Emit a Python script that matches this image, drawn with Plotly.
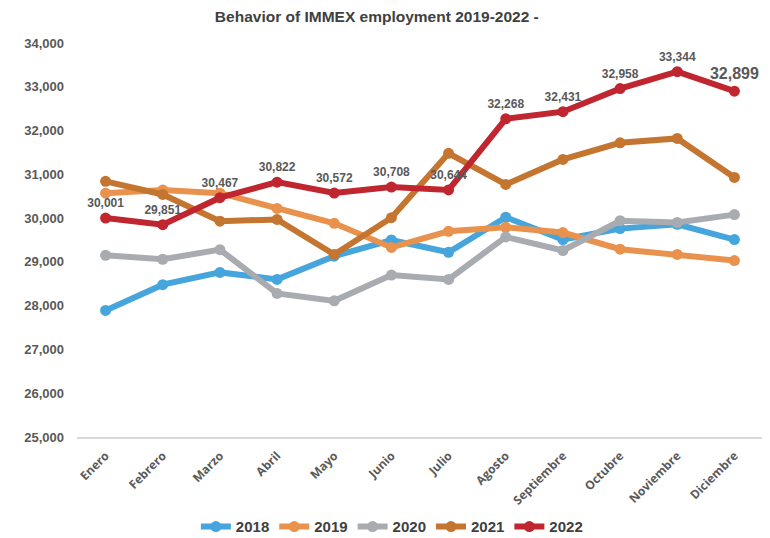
import plotly.graph_objects as go

months = ["Enero", "Febrero", "Marzo", "Abril", "Mayo", "Junio", "Julio",
          "Agosto", "Septiembre", "Octubre", "Noviembre", "Diciembre"]

y2018 = [27890, 28480, 28760, 28600, 29130, 29500, 29220, 30020, 29510, 29760, 29860, 29510]
y2019 = [30570, 30640, 30570, 30220, 29880, 29330, 29700, 29790, 29670, 29290, 29170, 29030]
y2020 = [29150, 29060, 29280, 28280, 28110, 28700, 28600, 29570, 29260, 29940, 29900, 30080]
y2021 = [30840, 30540, 29930, 29970, 29170, 30010, 31480, 30770, 31340, 31720, 31820, 30930]
y2022 = [30001, 29851, 30467, 30822, 30572, 30708, 30644, 32268, 32431, 32958, 33344, 32899]

series = [("2018", y2018, "#45A5DC"),
          ("2019", y2019, "#E8924E"),
          ("2020", y2020, "#A8ABB0"),
          ("2021", y2021, "#C47530"),
          ("2022", y2022, "#C0262F")]

fig = go.Figure()
for name, vals, col in series:
    if name == "2022":
        kw = dict(mode="lines+markers+text",
                  text=[f"{v:,}" for v in vals],
                  textposition="top center",
                  textfont=dict(family="Liberation Sans, Arial", size=[12]*11 + [16],
                                color="#595959", weight="bold"))
    else:
        kw = dict(mode="lines+markers")
    fig.add_trace(go.Scatter(x=months, y=vals, name=name,
                             line=dict(color=col, width=6),
                             marker=dict(color=col, size=11),
                             cliponaxis=False, **kw))

# page body has an 8px margin; figure is sized to fit the 770x538 window
fig.update_layout(
    width=762, height=530,
    margin=dict(l=69, r=7, t=35, b=101, autoexpand=False),
    paper_bgcolor="white", plot_bgcolor="white",
    title=dict(text="Behavior of IMMEX employment 2019-2022 -",
               x=0.484, xanchor="center", y=0.983, yanchor="middle",
               font=dict(family="Liberation Sans, Arial",
                         size=15.5, color="#404040", weight="bold")),
    showlegend=True,
    legend=dict(orientation="h", x=0.459, xanchor="center", y=-0.228, yanchor="middle",
                font=dict(family="Liberation Sans, Arial",
                          size=15, color="#404040", weight="bold"),
                itemwidth=30, tracegroupgap=0),
    font=dict(family="Liberation Sans, Arial", color="#595959"),
)
fig.update_xaxes(type="category", range=[-0.5, 11.5], showgrid=False, automargin=False,
                 showline=True, linecolor="#D9D9D9", linewidth=2,
                 ticks="", tickangle=-45, ticklabelstandoff=5,
                 tickfont=dict(family="Open Sans, Liberation Sans", size=12,
                               color="#595959", weight="bold"))
fig.update_yaxes(range=[25000, 34000], dtick=1000, tickformat=",d", automargin=False,
                 showgrid=False, zeroline=False, showline=False, ticks="",
                 ticklabelstandoff=12,
                 tickfont=dict(family="Liberation Sans, Arial", size=13,
                               color="#595959", weight="bold"))

fig.write_html("out.html")
